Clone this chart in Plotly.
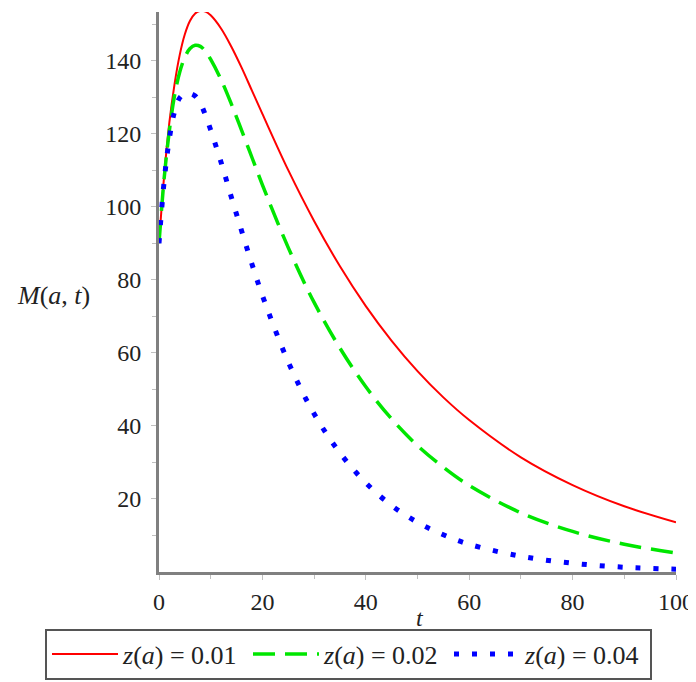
import plotly.graph_objects as go

# time values (t)
t_vals = [0, 1, 2, 3, 4, 5, 6, 7, 8, 9, 10, 12, 14, 16, 18, 20, 25, 30, 35, 40, 45, 50, 55, 60, 70, 80, 90, 100]

# M(a,t) for z(a) = 0.01
m_z001 = [90, 108.5, 123.0, 133.5, 141.5, 147.2, 150.9, 152.9, 153.6, 153.4, 152.4, 148.8, 143.8, 138.0, 131.7,
          125.4, 110.0, 96.1, 83.7, 72.8, 63.3, 55.0, 47.8, 41.6, 31.4, 23.8, 18.0, 13.6]
# M(a,t) for z(a) = 0.02
m_z002 = [90, 107.8, 120.8, 130.4, 136.8, 140.9, 143.3, 144.2, 143.9, 142.5, 140.3, 134.8, 128.1, 120.8, 113.4,
          106.0, 88.8, 73.8, 61.3, 50.7, 41.9, 34.6, 28.7, 23.7, 16.2, 11.1, 7.6, 5.2]
# M(a,t) for z(a) = 0.04
m_z004 = [90, 107.0, 118.6, 126.0, 129.8, 131.0, 131.0, 130.3, 128.3, 125.0, 121.0, 112.2, 102.6, 93.3, 84.2,
          75.7, 57.5, 43.3, 32.6, 24.4, 18.2, 13.6, 10.2, 7.6, 4.3, 2.4, 1.3, 0.75]

series_names = ["<i>z</i>(<i>a</i>) = 0.01", "<i>z</i>(<i>a</i>) = 0.02", "<i>z</i>(<i>a</i>) = 0.04"]

x_ticks = [0, 20, 40, 60, 80, 100]
x_minor = [10, 30, 50, 70, 90]
y_ticks = [20, 40, 60, 80, 100, 120, 140]
y_minor = [10, 30, 50, 70, 90, 110, 130, 150]

FONT = "Liberation Serif"

fig = go.Figure()
fig.add_trace(go.Scatter(x=t_vals, y=m_z001, mode="lines", name=series_names[0],
                         line=dict(color="#ff0000", width=2, shape="spline")))
fig.add_trace(go.Scatter(x=t_vals, y=m_z002, mode="lines", name=series_names[1],
                         line=dict(color="#00e600", width=3.5, shape="spline", dash="22px,10px")))
fig.add_trace(go.Scatter(x=t_vals, y=m_z004, mode="lines", name=series_names[2],
                         line=dict(color="#0000ff", width=5, shape="spline", dash="5px,13px")))

axis_common = dict(
    showline=True, linecolor="#808080", linewidth=3,
    showgrid=False, zeroline=False, automargin=False,
    ticks="outside", ticklen=5, tickwidth=1, tickcolor="#c0c0c0",
    tickfont=dict(family=FONT, size=24, color="#222222"),
)

fig.update_xaxes(range=[0, 100], tickvals=x_ticks, ticklabelstandoff=1,
                 minor=dict(tickvals=x_minor, ticks="outside", ticklen=4, tickcolor="#c0c0c0"),
                 **axis_common)
fig.update_yaxes(range=[0, 153.3], tickvals=y_ticks, ticklabelstandoff=5,
                 minor=dict(tickvals=y_minor, ticks="outside", ticklen=4, tickcolor="#c0c0c0"),
                 **axis_common)

fig.add_annotation(text="<i>M</i>(<i>a</i>, <i>t</i>)", xref="paper", yref="paper",
                   x=-0.205, y=0.493, xanchor="center", yanchor="middle", showarrow=False,
                   font=dict(family=FONT, size=26, color="#222222"))
fig.add_annotation(text="<i>t</i>", xref="paper", yref="paper",
                   x=0.505, y=-0.082, xanchor="center", yanchor="middle", showarrow=False,
                   font=dict(family=FONT, size=24, color="#222222"))

# page body has an 8px margin, so the figure is 8px smaller and margins shifted
fig.update_layout(
    width=688, height=674,
    margin=dict(l=151, r=20, t=4, b=110, autoexpand=False),
    paper_bgcolor="white", plot_bgcolor="white",
    showlegend=True,
    legend=dict(orientation="h", x=-0.2205, xanchor="left", y=-0.101, yanchor="top",
                bordercolor="#555555", borderwidth=2, bgcolor="white",
                font=dict(family=FONT, size=26, color="#222222"),
                itemwidth=66, entrywidth=120, tracegroupgap=0),
)

fig.write_html("out.html")
